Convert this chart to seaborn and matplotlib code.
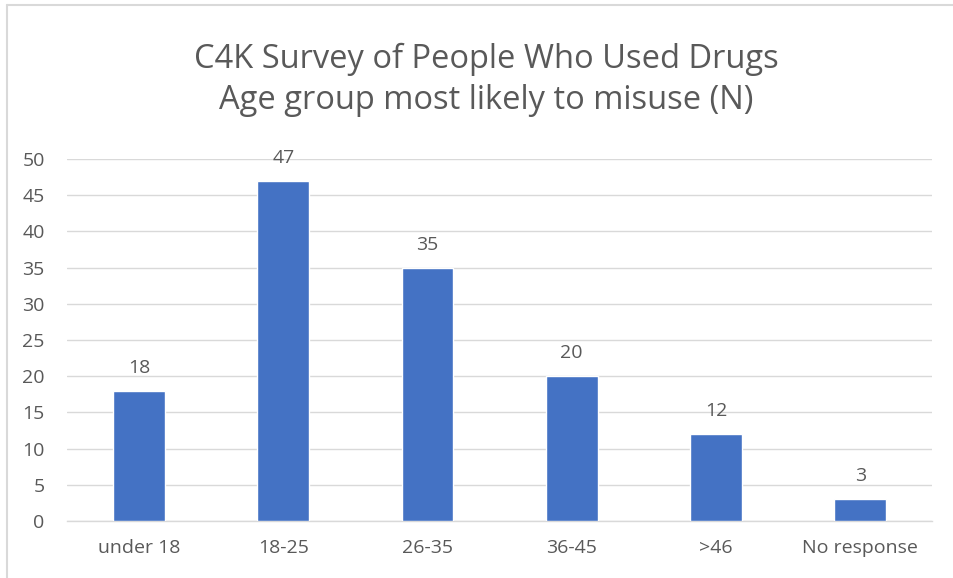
import matplotlib
matplotlib.use("Agg")
import matplotlib.pyplot as plt
import seaborn as sns
import pandas as pd

categories = ["under 18", "18-25", "26-35", "36-45", ">46", "No response"]
values = [18, 47, 35, 20, 12, 3]
yticks = [0, 5, 10, 15, 20, 25, 30, 35, 40, 45, 50]
title = "C4K Survey of People Who Used Drugs\nAge group most likely to misuse (N)"

sns.set_theme(style="white")
plt.rcParams['font.family'] = ['Open Sans', 'DejaVu Sans']
text_color = "#595959"

df = pd.DataFrame({"cat": categories, "val": values})

fig = plt.figure(figsize=(9.54, 5.78), dpi=100)
ax = fig.add_axes([0.0702, 0.0986, 0.907, 0.6263])
sns.barplot(data=df, x="cat", y="val", color="#4472C4", width=0.36,
            saturation=1, ax=ax, zorder=3)

ax.set_ylim(0, 50)
ax.set_yticks(yticks)
ax.grid(axis="y", color="#D9D9D9", linewidth=1, zorder=0)
ax.set_axisbelow(True)
for s in ["top", "right", "left"]:
    ax.spines[s].set_visible(False)
ax.spines["bottom"].set_color("#D9D9D9")
ax.spines["bottom"].set_linewidth(1)
ax.tick_params(axis="both", length=0, labelsize=14, colors=text_color)
ax.tick_params(axis="x", pad=13)
ax.tick_params(axis="y", pad=16)
ax.set_xlabel("")
ax.set_ylabel("")

for p, v in zip(ax.patches, values):
    ax.annotate(str(v), (p.get_x() + p.get_width() / 2, p.get_height()),
                xytext=(0, 10), textcoords="offset points", ha="center",
                va="bottom", fontsize=14, color=text_color)

fig.text(0.51, 0.862, title, ha="center", va="center", fontsize=23.5,
         color=text_color, linespacing=1.35)

# chart border (top and left visible)
fig.add_artist(plt.Line2D([7/954, 1], [1 - 5/578, 1 - 5/578], color="#D9D9D9", lw=1.5,
                          transform=fig.transFigure))
fig.add_artist(plt.Line2D([7/954, 7/954], [0, 1 - 5/578], color="#D9D9D9", lw=1.5,
                          transform=fig.transFigure))

fig.savefig("out.png", dpi=100)
